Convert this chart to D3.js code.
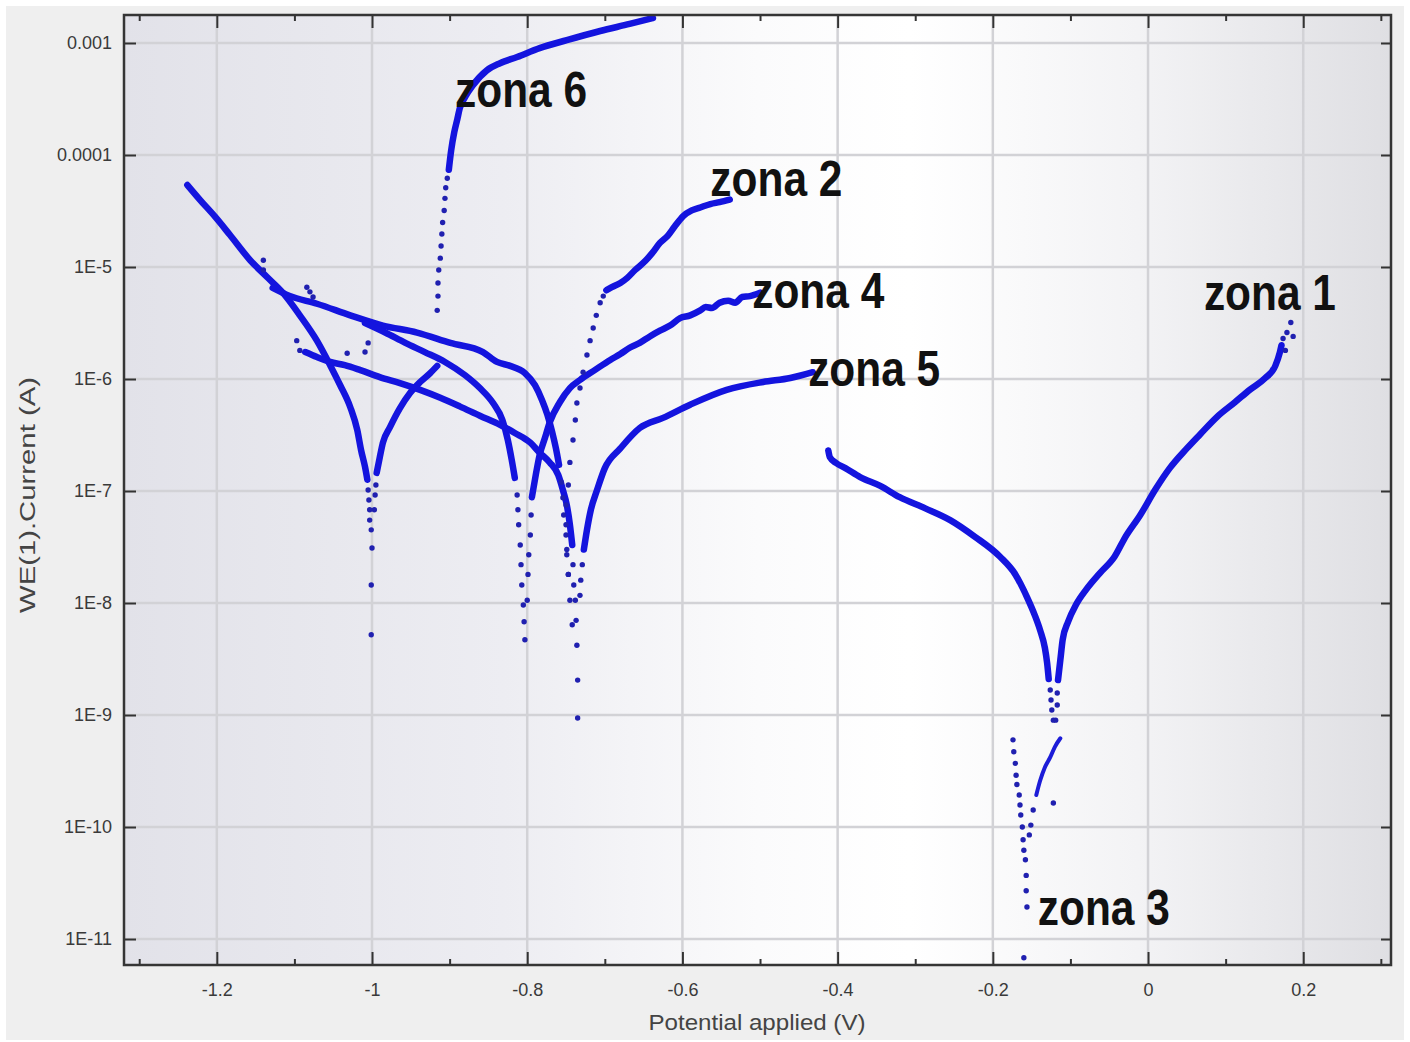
<!DOCTYPE html>
<html>
<head>
<meta charset="utf-8">
<script src="https://cdn.jsdelivr.net/npm/d3@7"></script>
<style>
  body { margin: 0; background: #fff; }
  svg text { font-family: "Liberation Sans", Arial, sans-serif; }
</style>
</head>
<body>
<svg id="chart"></svg>
<script>
// axis ticks
const xMajor = [-1.2, -1, -0.8, -0.6, -0.4, -0.2, 0, 0.2];
const xMinor = [-1.3, -1.1, -0.9, -0.7, -0.5, -0.3, -0.1, 0.1, 0.3];
const yTicks = [1e-3, 1e-4, 1e-5, 1e-6, 1e-7, 1e-8, 1e-9, 1e-10, 1e-11];
const yTickLabels = ["0.001", "0.0001", "1E-5", "1E-6", "1E-7", "1E-8", "1E-9", "1E-10", "1E-11"];

// [potential V, current A]
const cathA = [[-1.238,5.4e-5],[-1.222,4.0e-5],[-1.202,2.8e-5],[-1.183,1.93e-5],[-1.157,1.15e-5],[-1.135,8.1e-6],[-1.115,5.9e-6],[-1.093,3.7e-6],[-1.071,2.2e-6],[-1.054,1.33e-6],[-1.041,8.8e-7],[-1.028,5.6e-7],[-1.019,3.5e-7],[-1.014,2.3e-7],[-1.009,1.64e-7],[-1.006,1.26e-7]];
const cathADots = [[-1.005,1.02e-7],[-1.004,8.3e-8],[-1.003,6.8e-8],[-1.003,5.5e-8],[-1.001,4.5e-8],[-1.000,3.1e-8],[-1.001,1.45e-8],[-1.001,5.2e-9]];

const zone6Rise = [[-0.994,1.45e-7],[-0.990,2.0e-7],[-0.986,2.7e-7],[-0.977,3.7e-7],[-0.964,5.5e-7],[-0.951,7.5e-7],[-0.938,9.4e-7],[-0.925,1.13e-6],[-0.916,1.31e-6]];
const zone6Dots = [[-0.997,6.8e-8],[-0.996,9.2e-8],[-0.995,1.13e-7],[-0.916,4.1e-6],[-0.915,5.5e-6],[-0.915,7.2e-6],[-0.914,9.4e-6],[-0.912,1.2e-5],[-0.911,1.54e-5],[-0.910,1.97e-5],[-0.909,2.5e-5],[-0.907,3.2e-5],[-0.906,4.1e-5],[-0.905,5.1e-5],[-0.903,6.2e-5]];
const zone6Top = [[-0.901,7.4e-5],[-0.898,1.1e-4],[-0.894,1.6e-4],[-0.890,2.1e-4],[-0.887,2.6e-4],[-0.880,3.3e-4],[-0.870,4.2e-4],[-0.852,5.7e-4],[-0.835,6.6e-4],[-0.813,7.5e-4],[-0.784,9.0e-4],[-0.749,1.06e-3],[-0.706,1.28e-3],[-0.668,1.48e-3],[-0.638,1.67e-3]];

const upper = [[-1.128,6.5e-6],[-1.106,5.5e-6],[-1.071,4.7e-6],[-1.028,3.7e-6],[-0.986,3.0e-6],[-0.942,2.6e-6],[-0.899,2.1e-6],[-0.857,1.74e-6],[-0.839,1.42e-6],[-0.822,1.31e-6],[-0.803,1.13e-6],[-0.790,8.8e-7],[-0.781,6.5e-7],[-0.774,4.8e-7],[-0.768,3.4e-7],[-0.763,2.4e-7],[-0.759,1.71e-7]];
const upperDots = [[-0.756,1.2e-7],[-0.754,8.7e-8],[-0.753,6.1e-8],[-0.750,4.05e-8],[-0.749,2.7e-8],[-0.747,1.8e-8]];

const mid = [[-1.009,3.16e-6],[-0.983,2.6e-6],[-0.957,2.1e-6],[-0.932,1.74e-6],[-0.906,1.42e-6],[-0.880,1.08e-6],[-0.861,8.3e-7],[-0.844,6.1e-7],[-0.832,4.3e-7],[-0.825,2.85e-7],[-0.820,1.9e-7],[-0.816,1.31e-7]];
const midDots = [[-0.813,9.2e-8],[-0.812,6.8e-8],[-0.811,5.0e-8],[-0.809,3.3e-8],[-0.808,2.2e-8],[-0.807,1.45e-8],[-0.805,9.6e-9],[-0.804,6.8e-9],[-0.803,4.7e-9]];

const zone4 = [[-0.794,8.8e-8],[-0.789,1.39e-7],[-0.784,2.1e-7],[-0.777,3.0e-7],[-0.771,4.1e-7],[-0.758,6.2e-7],[-0.745,8.3e-7],[-0.732,9.8e-7],[-0.713,1.2e-6],[-0.693,1.48e-6],[-0.680,1.67e-6],[-0.668,1.9e-6],[-0.655,2.1e-6],[-0.642,2.4e-6],[-0.629,2.7e-6],[-0.616,3.0e-6],[-0.603,3.5e-6],[-0.590,3.7e-6],[-0.577,4.1e-6],[-0.570,4.4e-6],[-0.562,4.3e-6],[-0.552,4.8e-6],[-0.541,5.0e-6],[-0.532,4.8e-6],[-0.523,5.4e-6],[-0.513,5.5e-6],[-0.500,5.9e-6]];
const zone4Dots = [[-0.800,1.06e-8],[-0.799,1.8e-8],[-0.798,2.7e-8],[-0.796,4.05e-8],[-0.795,6.1e-8]];

const lower = [[-1.086,1.74e-6],[-1.071,1.57e-6],[-1.054,1.42e-6],[-1.035,1.33e-6],[-1.015,1.2e-6],[-0.990,1.04e-6],[-0.964,9.2e-7],[-0.938,8.0e-7],[-0.912,6.8e-7],[-0.887,5.7e-7],[-0.861,4.7e-7],[-0.835,3.9e-7],[-0.816,3.3e-7],[-0.796,2.7e-7],[-0.784,2.2e-7],[-0.771,1.8e-7],[-0.760,1.39e-7],[-0.754,1.02e-7],[-0.749,7.5e-8],[-0.745,5.0e-8],[-0.742,3.3e-8]];
const lowerDots = [[-0.741,2.2e-8],[-0.740,1.45e-8],[-0.738,1.06e-8],[-0.737,7.0e-9],[-0.736,4.2e-9],[-0.735,2.05e-9],[-0.735,9.4e-10]];

const zone5 = [[-0.727,3.0e-8],[-0.723,4.5e-8],[-0.718,6.8e-8],[-0.710,1.02e-7],[-0.700,1.6e-7],[-0.680,2.4e-7],[-0.655,3.65e-7],[-0.625,4.5e-7],[-0.590,5.9e-7],[-0.543,8.0e-7],[-0.496,9.4e-7],[-0.461,1.02e-6],[-0.432,1.15e-6]];
const zone5Dots = [[-0.732,1.17e-8],[-0.731,1.6e-8],[-0.729,2.2e-8]];

const zone2 = [[-0.698,6.2e-6],[-0.691,6.6e-6],[-0.680,7.2e-6],[-0.671,8.0e-6],[-0.661,9.4e-6],[-0.648,1.13e-5],[-0.639,1.33e-5],[-0.629,1.64e-5],[-0.619,1.9e-5],[-0.610,2.3e-5],[-0.599,2.85e-5],[-0.588,3.2e-5],[-0.577,3.4e-5],[-0.564,3.65e-5],[-0.552,3.8e-5],[-0.539,4.0e-5]];
const zone2Dots = [[-0.742,6.4e-9],[-0.745,1.06e-8],[-0.747,1.8e-8],[-0.749,3.0e-8],[-0.750,5.0e-8],[-0.750,7.5e-8],[-0.747,1.13e-7],[-0.745,1.8e-7],[-0.741,2.85e-7],[-0.738,4.3e-7],[-0.736,6.1e-7],[-0.732,8.3e-7],[-0.728,1.15e-6],[-0.723,1.64e-6],[-0.719,2.2e-6],[-0.715,2.85e-6],[-0.711,3.7e-6],[-0.706,4.8e-6],[-0.702,5.5e-6]];

const zone1Cath = [[-0.412,2.3e-7],[-0.410,2.0e-7],[-0.402,1.78e-7],[-0.390,1.6e-7],[-0.371,1.33e-7],[-0.345,1.11e-7],[-0.320,8.8e-8],[-0.287,7.0e-8],[-0.255,5.5e-8],[-0.223,3.9e-8],[-0.191,2.6e-8],[-0.171,1.8e-8],[-0.156,1.13e-8],[-0.146,7.8e-9],[-0.139,5.7e-9],[-0.133,4.0e-9],[-0.130,2.9e-9],[-0.128,2.1e-9]];
const zone1CathDots = [[-0.126,1.67e-9],[-0.125,1.36e-9],[-0.124,1.11e-9],[-0.122,9.0e-10]];
const zone1 = [[-0.116,2.05e-9],[-0.113,3.1e-9],[-0.110,4.7e-9],[-0.103,6.8e-9],[-0.093,9.6e-9],[-0.080,1.31e-8],[-0.062,1.85e-8],[-0.043,2.6e-8],[-0.030,3.8e-8],[-0.010,6.1e-8],[0.009,1.02e-7],[0.028,1.6e-7],[0.050,2.4e-7],[0.067,3.2e-7],[0.089,4.6e-7],[0.112,6.2e-7],[0.131,8.0e-7],[0.151,1.02e-6],[0.164,1.31e-6],[0.170,1.74e-6],[0.172,2.0e-6]];
const zone1Dots = [[-0.119,9.0e-10],[-0.117,1.23e-9],[-0.117,1.57e-9],[0.174,2.3e-6],[0.179,2.6e-6],[0.187,2.4e-6],[0.184,3.2e-6],[0.177,1.8e-6]];

const zone3 = [[-0.144,1.93e-10],[-0.139,2.6e-10],[-0.133,3.4e-10],[-0.126,4.2e-10],[-0.120,5.2e-10],[-0.113,6.2e-10]];
const zone3Dots = [[-0.148,1.42e-10],[-0.151,1.04e-10],[-0.153,8.5e-11],[-0.122,1.64e-10],[-0.174,6.0e-10],[-0.173,4.7e-10],[-0.171,3.7e-10],[-0.170,2.9e-10],[-0.169,2.4e-10],[-0.166,1.93e-10],[-0.165,1.57e-10],[-0.164,1.28e-10],[-0.162,1.0e-10],[-0.161,7.7e-11],[-0.160,6.2e-11],[-0.158,5.1e-11],[-0.157,3.7e-11],[-0.157,2.7e-11],[-0.156,1.93e-11],[-0.160,6.8e-12]];

// loose points in the left cluster
const strayDots = [[-1.140,1.15e-5],[-1.140,9.4e-6],[-1.084,6.6e-6],[-1.080,6.0e-6],[-1.076,5.4e-6],[-1.097,2.2e-6],[-1.093,1.8e-6],[-1.005,2.1e-6],[-1.032,1.7e-6],[-1.009,1.74e-6]];

const zoneLabels = ["zona 6", "zona 2", "zona 4", "zona 5", "zona 1", "zona 3"];
const zoneLabelV = [-0.893, -0.564, -0.510, -0.438, 0.072, -0.142];
const zoneLabelI = [2.7e-4, 4.3e-5, 4.3e-6, 8.7e-7, 4.1e-6, 1.33e-11];

let svgWidth = 1410;
let svgHeight = 1042;
let plot = { left: 124, right: 1391, top: 15, bottom: 965 };

let svg = d3.select("#chart")
  .attr("width", svgWidth)
  .attr("height", svgHeight);

// figure background
svg.append("rect").attr("width", svgWidth).attr("height", svgHeight).attr("fill", "#fff");
svg.append("rect")
  .attr("x", 6).attr("y", 6)
  .attr("width", 1398).attr("height", 1034)
  .attr("fill", "#efefef");

// scales
let x = d3.scaleLinear()
  .domain([-1.3196, 0.3131])
  .range([plot.left, plot.right]);

let y = d3.scaleLog()
  .domain([Math.pow(10, -2.75), Math.pow(10, -11.232)])
  .range([plot.top, plot.bottom]);

// plot area gradient
let defs = svg.append("defs");
let grad = defs.append("linearGradient").attr("id", "bg").attr("x1", 0).attr("x2", 1).attr("y1", 0).attr("y2", 0);
[[0, "#e2e2e9"], [0.3, "#ededf2"], [0.5, "#fbfbfc"], [0.62, "#ffffff"], [0.8, "#f3f3f5"], [1, "#dfdfe3"]]
  .forEach(s => grad.append("stop").attr("offset", s[0]).attr("stop-color", s[1]));

defs.append("clipPath").attr("id", "clip")
  .append("rect")
  .attr("x", plot.left).attr("y", plot.top)
  .attr("width", plot.right - plot.left).attr("height", plot.bottom - plot.top);

svg.append("rect")
  .attr("x", plot.left).attr("y", plot.top)
  .attr("width", plot.right - plot.left).attr("height", plot.bottom - plot.top)
  .attr("fill", "url(#bg)");

// grid
let grid = svg.append("g").attr("stroke", "#d2d2d6").attr("stroke-width", 2.5);
grid.selectAll(".vg").data(xMajor).enter().append("line")
  .attr("x1", d => x(d)).attr("x2", d => x(d))
  .attr("y1", plot.top).attr("y2", plot.bottom);
grid.selectAll(".hg").data(yTicks).enter().append("line")
  .attr("x1", plot.left).attr("x2", plot.right)
  .attr("y1", d => y(d)).attr("y2", d => y(d));

// data
let chartGroup = svg.append("g").attr("clip-path", "url(#clip)");
let line = d3.line()
  .x(d => x(d[0]))
  .y(d => y(d[1]))
  .curve(d3.curveMonotoneX);

let lineSeries = [cathA, zone6Rise, zone6Top, upper, mid, zone4, lower, zone5, zone2, zone1Cath, zone1];
chartGroup.selectAll(".trace").data(lineSeries).enter().append("path")
  .attr("d", line)
  .attr("fill", "none")
  .attr("stroke", "#1414de")
  .attr("stroke-width", 6.5)
  .attr("stroke-linecap", "round")
  .attr("stroke-linejoin", "round");

chartGroup.append("path")
  .attr("d", line(zone3))
  .attr("fill", "none")
  .attr("stroke", "#1c1cd8")
  .attr("stroke-width", 4)
  .attr("stroke-linecap", "round");

let dotSeries = [].concat(cathADots, zone6Dots, upperDots, midDots, zone4Dots, lowerDots,
  zone5Dots, zone2Dots, zone1CathDots, zone1Dots, zone3Dots, strayDots);
chartGroup.selectAll(".dot").data(dotSeries).enter().append("circle")
  .attr("cx", d => x(d[0]))
  .attr("cy", d => y(d[1]))
  .attr("r", 2.7)
  .attr("fill", "#2020b0");

// axes
function styleAxis(g) {
  g.select(".domain").remove();
  g.selectAll(".tick line").attr("stroke", "#333").attr("stroke-width", 2);
  g.selectAll(".tick text")
    .attr("font-size", 18)
    .attr("font-family", "Liberation Sans, Arial, sans-serif")
    .attr("fill", "#3a3a3a");
}

let fmtX = d => String(+d.toFixed(1));

svg.append("g")
  .attr("transform", `translate(0, ${plot.bottom})`)
  .call(d3.axisBottom(x).tickValues(xMajor).tickSize(-13).tickPadding(18).tickFormat(fmtX))
  .call(styleAxis);
svg.append("g")
  .attr("transform", `translate(0, ${plot.bottom})`)
  .call(d3.axisBottom(x).tickValues(xMinor).tickSize(-6).tickFormat(""))
  .call(styleAxis);
svg.append("g")
  .attr("transform", `translate(0, ${plot.top})`)
  .call(d3.axisTop(x).tickValues(xMajor).tickSize(-13).tickFormat(""))
  .call(styleAxis);
svg.append("g")
  .attr("transform", `translate(0, ${plot.top})`)
  .call(d3.axisTop(x).tickValues(xMinor).tickSize(-6).tickFormat(""))
  .call(styleAxis);
svg.append("g")
  .attr("transform", `translate(${plot.left}, 0)`)
  .call(d3.axisLeft(y).tickValues(yTicks).tickSize(-12).tickPadding(12).tickFormat((d, i) => yTickLabels[i]))
  .call(styleAxis);
svg.append("g")
  .attr("transform", `translate(${plot.right}, 0)`)
  .call(d3.axisRight(y).tickValues(yTicks).tickSize(-10).tickFormat(""))
  .call(styleAxis);

// frame
svg.append("rect")
  .attr("x", plot.left).attr("y", plot.top)
  .attr("width", plot.right - plot.left).attr("height", plot.bottom - plot.top)
  .attr("fill", "none")
  .attr("stroke", "#353535")
  .attr("stroke-width", 2.5);

// axis titles
svg.append("text")
  .attr("x", 757)
  .attr("y", 1030)
  .attr("text-anchor", "middle")
  .attr("font-size", 22)
  .attr("fill", "#444")
  .attr("textLength", 217)
  .attr("lengthAdjust", "spacingAndGlyphs")
  .text("Potential applied (V)");

svg.append("text")
  .attr("transform", "translate(35, 495) rotate(-90)")
  .attr("text-anchor", "middle")
  .attr("font-size", 22)
  .attr("fill", "#444")
  .attr("textLength", 236)
  .attr("lengthAdjust", "spacingAndGlyphs")
  .text("WE(1).Current (A)");

// zone annotations
svg.selectAll(".zone").data(zoneLabels).enter().append("text")
  .attr("x", (d, i) => x(zoneLabelV[i]))
  .attr("y", (d, i) => y(zoneLabelI[i]))
  .attr("font-family", "Lato, 'Open Sans', sans-serif")
  .attr("font-weight", "bold")
  .attr("font-size", 50)
  .attr("fill", "#111")
  .attr("textLength", 132)
  .attr("lengthAdjust", "spacingAndGlyphs")
  .text(d => d);
</script>
</body>
</html>
